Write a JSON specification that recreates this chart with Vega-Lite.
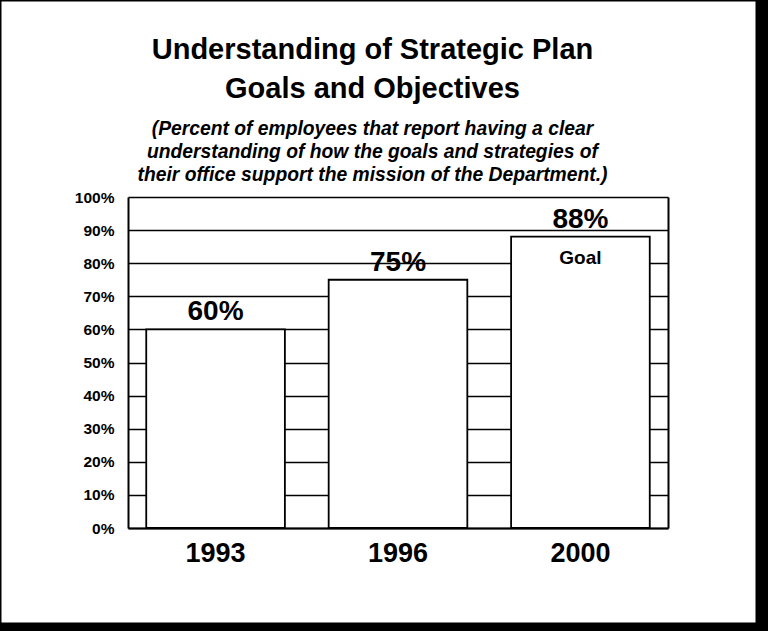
{
  "$schema": "https://vega.github.io/schema/vega-lite/v6.json",
  "width": 757,
  "height": 624,
  "autosize": "none",
  "padding": {"left": 0, "top": 0, "right": 11, "bottom": 7},
  "background": "black",
  "config": {
    "view": {"fill": "white", "stroke": "black", "strokeWidth": 3},
    "font": "Liberation Sans"
  },
  "title": {
    "text": ["Understanding of Strategic Plan", "Goals and Objectives"],
    "subtitle": ["(Percent of employees that report having a clear", "understanding of how the goals and strategies of", "their office support the mission of the Department.)"],
    "anchor": "middle",
    "frame": "group",
    "offset": -185,
    "dx": -6,
    "font": "Liberation Sans",
    "fontSize": 29,
    "fontWeight": "bold",
    "lineHeight": 39,
    "color": "black",
    "subtitleFont": "Liberation Sans",
    "subtitleFontSize": 19.3,
    "subtitleFontStyle": "italic",
    "subtitleFontWeight": "bold",
    "subtitleLineHeight": 23,
    "subtitlePadding": 16,
    "subtitleColor": "black"
  },
  "data": {
    "values": [
      {"year": "1993", "value": 60, "label": "60%", "note": ""},
      {"year": "1996", "value": 75, "label": "75%", "note": ""},
      {"year": "2000", "value": 88, "label": "88%", "note": "Goal"}
    ]
  },
  "layer": [
    {
      "mark": {"type": "bar", "fill": "white", "stroke": "black", "strokeWidth": 1.8},
      "encoding": {
        "x": {
          "field": "year", "type": "nominal", "sort": null,
          "scale": {"range": [128, 668], "paddingInner": 0.24, "paddingOuter": 0.1},
          "axis": {
            "orient": "bottom", "offset": -96, "title": null, "ticks": false,
            "labelAngle": 0, "labelFont": "Liberation Sans", "labelFontSize": 27,
            "labelFontWeight": "bold", "labelColor": "black", "labelPadding": 12,
            "domainColor": "black", "domainWidth": 2
          }
        },
        "y": {
          "field": "value", "type": "quantitative",
          "scale": {"domain": [0, 100], "range": [528, 197], "nice": false},
          "axis": {
            "orient": "left", "offset": -128, "title": null, "ticks": false,
            "values": [0, 10, 20, 30, 40, 50, 60, 70, 80, 90, 100],
            "labelExpr": "datum.value + '%'",
            "labelFont": "Liberation Sans", "labelFontSize": 15.5, "labelFontWeight": "bold",
            "labelColor": "black", "labelPadding": 14,
            "grid": true, "gridColor": "black", "gridWidth": 1.4, "gridOpacity": 1,
            "domainColor": "black", "domainWidth": 2
          }
        }
      }
    },
    {
      "mark": {"type": "text", "baseline": "bottom", "dy": -3, "fontSize": 28, "fontWeight": "bold", "font": "Liberation Sans", "color": "black"},
      "encoding": {
        "x": {"field": "year", "type": "nominal", "sort": null},
        "y": {
          "field": "value", "type": "quantitative",
          "axis": {"orient": "right", "offset": -89, "title": null, "labels": false, "ticks": false, "grid": false, "domainColor": "black", "domainWidth": 2}
        },
        "text": {"field": "label"}
      }
    },
    {
      "mark": {"type": "text", "baseline": "top", "dy": 12, "fontSize": 19, "fontWeight": "bold", "font": "Liberation Sans", "color": "black"},
      "encoding": {
        "x": {"field": "year", "type": "nominal", "sort": null},
        "y": {"field": "value", "type": "quantitative", "axis": null},
        "text": {"field": "note"}
      }
    }
  ],
  "resolve": {"axis": {"y": "independent"}}
}
